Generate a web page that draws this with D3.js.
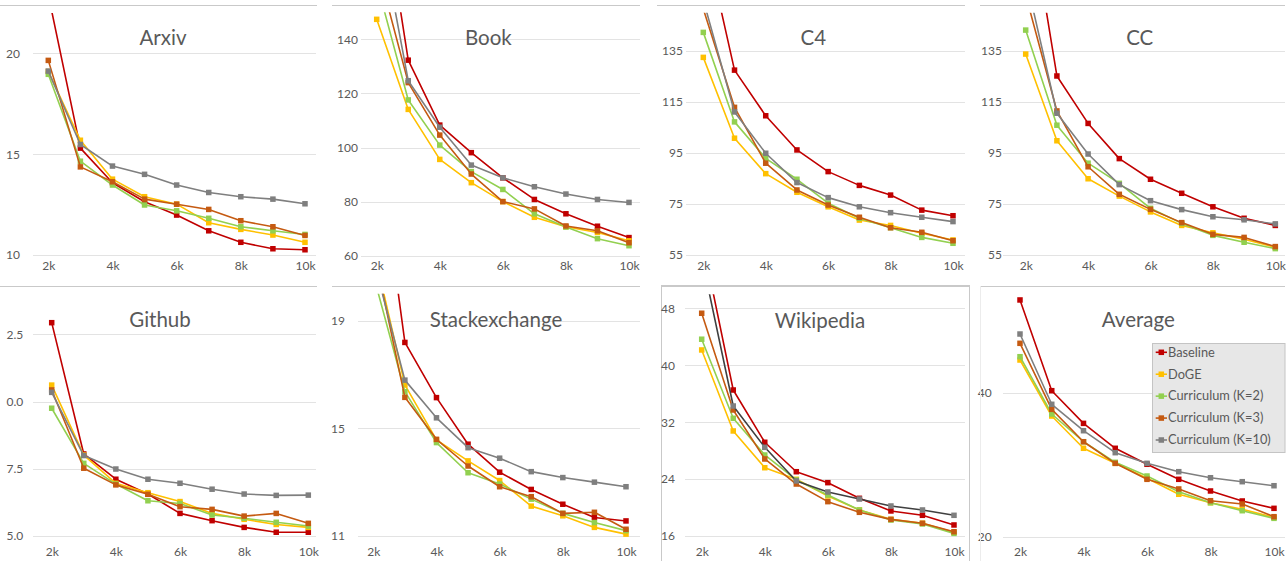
<!DOCTYPE html>
<html><head><meta charset="utf-8">
<script src="https://cdn.jsdelivr.net/npm/d3@7"></script>
<style>
html,body{margin:0;padding:0;background:#fff;}
svg{display:block;font-family:Lato,"Open Sans",sans-serif;}
</style></head>
<body><svg id="c" width="1288" height="561"></svg>
<script>
// ---------- DATA ----------
const categories = ["2k","3k","4k","5k","6k","7k","8k","9k","10k"];
const xTickLabels = ["2k","4k","6k","8k","10k"];
const seriesNames = ["Baseline","DoGE","Curriculum (K=2)","Curriculum (K=3)","Curriculum (K=10)"];

const arxivBaseline = [22.9, 15.3, 13.58, 12.64, 11.98, 11.2, 10.63, 10.31, 10.26];
const arxivDoge     = [19.1, 15.69, 13.76, 12.89, 12.52, 11.6, 11.27, 10.99, 10.63];
const arxivK2       = [18.96, 14.65, 13.47, 12.48, 12.19, 11.82, 11.4, 11.2, 11.02];
const arxivK3       = [19.65, 14.37, 13.63, 12.77, 12.52, 12.26, 11.7, 11.4, 10.97];
const arxivK10      = [19.12, 15.48, 14.41, 14.0, 13.47, 13.1, 12.89, 12.77, 12.54];
const arxivTicks = [10, 15, 20];
const arxivDomain = [10, 22];

const bookBaseline = [207, 132.3, 108.3, 98.1, 88.8, 80.8, 75.5, 70.9, 66.7];
const bookDoge     = [147.4, 114.1, 95.6, 87.0, 80.0, 74.2, 70.7, 68.6, 65.5];
const bookK2       = [161, 117.6, 100.9, 91.1, 84.5, 75.5, 70.6, 66.3, 63.7];
const bookK3       = [168, 124.0, 104.6, 90.2, 80.0, 77.3, 71.0, 69.2, 64.8];
const bookK10      = [187, 124.7, 107.5, 93.5, 88.8, 85.5, 82.8, 80.8, 79.7];
const bookTicks = [60, 80, 100, 120, 140];
const bookDomain = [60, 150];

const c4Baseline = [182, 127.5, 109.6, 96.2, 87.7, 82.3, 78.5, 72.6, 70.4];
const c4Doge     = [132.5, 100.8, 86.9, 79.6, 73.9, 68.7, 66.6, 63.5, 60.9];
const c4K2       = [142.3, 107.2, 92.9, 84.7, 75.3, 69.4, 65.7, 61.9, 59.6];
const c4K3       = [151.5, 112.9, 91.0, 80.5, 74.6, 69.8, 65.7, 63.9, 60.6];
const c4K10      = [155, 111.1, 94.9, 83.4, 77.5, 73.9, 71.6, 69.8, 68.1];
const c4Ticks = [55, 75, 95, 115, 135];
const c4Domain = [55, 150];

const ccBaseline = [200, 125.2, 106.6, 92.8, 84.7, 79.2, 73.9, 69.4, 66.6];
const ccDoge     = [133.8, 99.8, 84.9, 78.1, 71.9, 66.6, 63.7, 61.2, 58.0];
const ccK2       = [143.2, 105.9, 91.0, 83.1, 73.3, 67.4, 62.7, 60.0, 57.5];
const ccK3       = [157, 111.5, 89.6, 78.8, 72.9, 67.7, 63.1, 61.9, 58.3];
const ccK10      = [164, 110.6, 94.6, 82.6, 76.3, 72.8, 70.0, 68.8, 67.2];
const ccTicks = [55, 75, 95, 115, 135];
const ccDomain = [55, 150];

const githubBaseline = [12.93, 8.05, 7.11, 6.56, 5.84, 5.57, 5.32, 5.14, 5.14];
const githubDoge     = [10.61, 8.01, 6.96, 6.61, 6.28, 5.84, 5.62, 5.43, 5.32];
const githubK2       = [9.75, 7.70, 6.93, 6.31, 6.21, 5.78, 5.66, 5.51, 5.37];
const githubK3       = [10.43, 7.52, 6.9, 6.55, 6.09, 5.99, 5.74, 5.84, 5.47];
const githubK10      = [10.34, 7.99, 7.49, 7.11, 6.96, 6.74, 6.56, 6.51, 6.52];
const githubTicks = [5, 7.5, 10, 12.5];
const githubTickLabels = ["5.0", "7.5", "0.0", "2.5"];
const githubDomain = [5, 14];

const stackBaseline = [26.9, 18.19, 16.14, 14.41, 13.37, 12.73, 12.18, 11.69, 11.56];
const stackDoge     = [21.7, 16.61, 14.57, 13.79, 13.06, 12.11, 11.75, 11.32, 11.07];
const stackK2       = [20.7, 16.36, 14.47, 13.35, 12.93, 12.37, 11.84, 11.5, 11.2];
const stackK3       = [21.7, 16.15, 14.59, 13.6, 12.83, 12.46, 11.84, 11.88, 11.25];
const stackK10      = [21.3, 16.79, 15.39, 14.28, 13.89, 13.39, 13.17, 13.0, 12.83];
const stackTicks = [11, 15, 19];
const stackDomain = [11, 20];

const wikiBaseline = [58, 36.53, 29.18, 25.04, 23.5, 21.3, 19.52, 18.91, 17.55];
const wikiDoge     = [42.16, 30.77, 25.6, 23.97, 21.63, 19.66, 18.34, 17.79, 16.52];
const wikiK2       = [43.67, 32.55, 27.39, 23.88, 21.77, 19.66, 18.25, 17.69, 16.37];
const wikiK3       = [47.32, 33.72, 26.83, 23.31, 20.83, 19.33, 18.34, 17.79, 16.6];
const wikiK10      = [55.2, 34.28, 28.47, 23.74, 22.19, 21.2, 20.22, 19.66, 18.91];
const wikiTicks = [16, 24, 32, 40, 48];
const wikiDomain = [16, 50];

const avgBaseline = [52.88, 40.28, 35.74, 32.28, 30.06, 27.97, 26.35, 24.96, 23.94];
const avgDoge     = [44.54, 36.76, 32.28, 30.19, 28.11, 25.89, 24.72, 23.8, 22.69];
const avgK2       = [45.0, 37.04, 33.19, 30.33, 28.43, 26.25, 24.72, 23.61, 22.55];
const avgK3       = [46.86, 37.69, 33.19, 30.19, 27.97, 26.63, 25.0, 24.54, 22.78];
const avgK10      = [48.15, 38.39, 34.72, 31.67, 30.19, 29.03, 28.19, 27.64, 27.08];
const avgTicks = [20, 40];
const avgDomain = [20, 55];

// ---------- STYLE / LAYOUT ----------
const colors = ["#C00000", "#FFC000", "#92D050", "#C55A11", "#7F7F7F"];
const textColor = "#595959";

const panels = [
  {title:"Arxiv", series:[arxivBaseline,arxivDoge,arxivK2,arxivK3,arxivK10], ticks:arxivTicks, domain:arxivDomain,
   yr:[255,13], xr:[48.3,305], gx:[33,316], lab:20, top:5, tl:[0,317], tx:163, ty:44.5, xly:270},
  {title:"Book", series:[bookBaseline,bookDoge,bookK2,bookK3,bookK10], ticks:bookTicks, domain:bookDomain,
   yr:[255.7,12.3], xr:[376.7,629], gx:[361,640], lab:358, top:5, tl:[332,640], tx:488.3, ty:44.5, xly:270},
  {title:"C4", series:[c4Baseline,c4Doge,c4K2,c4K3,c4K10], ticks:c4Ticks, domain:c4Domain,
   yr:[255,12.75], xr:[703.3,953], gx:[686,965], lab:683, top:5, tl:[657,965], tx:813.3, ty:44.5, xly:270},
  {title:"CC", series:[ccBaseline,ccDoge,ccK2,ccK3,ccK10], ticks:ccTicks, domain:ccDomain,
   yr:[255,12.75], xr:[1025.7,1275.3], gx:[1003,1285], lab:1002, top:5, tl:[980,1285], tx:1139.7, ty:44.5, xly:270},
  {title:"Github", series:[githubBaseline,githubDoge,githubK2,githubK3,githubK10], ticks:githubTicks, tickLabels:githubTickLabels, domain:githubDomain,
   yr:[536,293.9], xr:[51.7,308.3], gx:[33,316], lab:23.3, top:286, tl:[0,317], tx:160, ty:326.7, xly:556},
  {title:"Stackexchange", series:[stackBaseline,stackDoge,stackK2,stackK3,stackK10], ticks:stackTicks, domain:stackDomain,
   yr:[536,293.7], xr:[373.3,626], gx:[358,640], lab:345, top:286, tl:[332,640], tx:496, ty:326.7, xly:556},
  {title:"Wikipedia", series:[wikiBaseline,wikiDoge,wikiK2,wikiK3,wikiK10], ticks:wikiTicks, domain:wikiDomain,
   yr:[536,294.2], xr:[701.7,954], gx:[685,965], lab:675, top:286, tl:[662,969], tx:820, ty:327.7, xly:556, frame:true, darkK10:true},
  {title:"Average", series:[avgBaseline,avgDoge,avgK2,avgK3,avgK10], ticks:avgTicks, domain:avgDomain,
   yr:[536.7,284.7], xr:[1020,1274], gx:[1003,1285], lab:991.7, top:286, tl:[980,1285], tx:1138.3, ty:326.7, xly:556, legend:true}
];

const svg = d3.select("#c");
const defs = svg.append("defs");

panels.forEach((p, pi) => {
  const g = svg.append("g");
  const x = d3.scalePoint().domain(categories).range(p.xr);
  const y = d3.scaleLinear().domain(p.domain).range(p.yr);

  g.append("line").attr("x1", p.tl[0]).attr("x2", p.tl[1]).attr("y1", p.top + 0.5).attr("y2", p.top + 0.5)
    .attr("stroke", "#c9c9c9").attr("stroke-width", 1);

  if (p.frame) {
    g.append("rect").attr("x", 661.5).attr("y", 285.5).attr("width", 308).attr("height", 290)
      .attr("fill", "none").attr("stroke", "#c9c9c9").attr("stroke-width", 1);
  }

  g.append("g").selectAll("line").data(p.ticks).join("line")
    .attr("x1", p.gx[0]).attr("x2", p.gx[1])
    .attr("y1", d => Math.round(y(d)) + 0.5).attr("y2", d => Math.round(y(d)) + 0.5)
    .attr("stroke", "#e3e3e3").attr("stroke-width", 1);

  const yAxis = d3.axisLeft(y).tickValues(p.ticks).tickSize(0).tickPadding(0)
    .tickFormat((d, i) => p.tickLabels ? p.tickLabels[i] : d3.format("d")(d));
  const ya = g.append("g").attr("transform", `translate(${p.lab},0)`).call(yAxis);
  ya.select(".domain").remove();
  ya.selectAll("text").attr("fill", textColor).style("font-size", "12px").style("font-family", "Lato, sans-serif");

  const xAxis = d3.axisBottom(x).tickValues(xTickLabels).tickSize(0).tickPadding(0);
  const xa = g.append("g").attr("transform", `translate(0,${p.xly})`).call(xAxis);
  xa.select(".domain").remove();
  xa.selectAll("text").attr("y", 0).attr("dy", "0").attr("fill", textColor).style("font-size", "12px").style("font-family", "Lato, sans-serif");

  const cid = "clip" + pi;
  defs.append("clipPath").attr("id", cid).append("rect")
    .attr("x", p.gx[0] - 10).attr("y", p.yr[1]).attr("width", p.gx[1] - p.gx[0] + 20).attr("height", p.yr[0] - p.yr[1] + 8);

  const plot = g.append("g").attr("clip-path", `url(#${cid})`);
  const line = d3.line().x((d, i) => x(categories[i])).y(d => y(d));

  p.series.forEach((vals, si) => {
    const lc = (p.darkK10 && si === 4) ? "#404040" : colors[si];
    const sg = plot.append("g");
    sg.append("path").datum(vals).attr("d", line).attr("fill", "none")
      .attr("stroke", lc).attr("stroke-width", 1.6).attr("stroke-linejoin", "round");
    sg.selectAll("rect").data(vals).join("rect")
      .attr("x", (d, i) => x(categories[i]) - 2.75).attr("y", d => y(d) - 2.75)
      .attr("width", 5.5).attr("height", 5.5).attr("fill", colors[si]);
  });

  g.append("text").attr("x", p.tx).attr("y", p.ty).attr("text-anchor", "middle")
    .attr("fill", textColor).style("font-size", "20.5px").style("font-family", "Lato, sans-serif")
    .text(p.title);

  if (p.legend) {
    const lg = g.append("g");
    lg.append("rect").attr("x", 1152.5).attr("y", 343.5).attr("width", 132.5).attr("height", 109)
      .attr("fill", "#e7e7e7").attr("stroke", "#c4c4c4").attr("stroke-width", 1);
    const ly = d3.scalePoint().domain(seriesNames).range([352.3, 440]);
    seriesNames.forEach((n, si) => {
      const yy = ly(n);
      lg.append("line").attr("x1", 1155.7).attr("x2", 1167).attr("y1", yy).attr("y2", yy)
        .attr("stroke", colors[si]).attr("stroke-width", 1.6);
      lg.append("rect").attr("x", 1161.3 - 2.75).attr("y", yy - 2.75).attr("width", 5.5).attr("height", 5.5).attr("fill", colors[si]);
      lg.append("text").attr("x", 1168).attr("y", yy + 4.3).attr("fill", textColor)
        .style("font-size", "12.8px").style("font-family", "Lato, sans-serif").text(n);
    });
  }
});
svg.append("line").attr("x1", 980.5).attr("x2", 980.5).attr("y1", 286).attr("y2", 561).attr("stroke", "#ececec");
</script>
</body></html>
